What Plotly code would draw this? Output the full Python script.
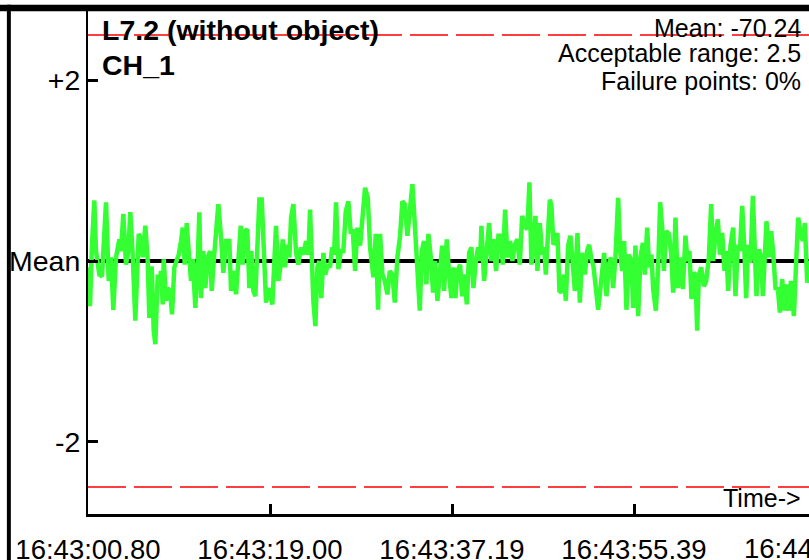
import plotly.graph_objects as go

# ---- data (seconds since 16:43:00.80, deviation from mean) ----
t_sec = [0, 0.2, 0.4, 0.63, 0.8, 1.13, 1.4, 1.53, 1.8, 2.07, 2.3, 2.53, 2.8, 3.13, 3.3, 3.53, 3.8, 4.03, 4.23, 4.47,
         4.73, 5.07, 5.3, 5.47, 5.73, 5.97, 6.13, 6.37, 6.57, 6.73, 6.97, 7.13, 7.3, 7.47, 7.57, 7.8, 7.97, 8.2, 8.4, 8.63,
         8.87, 9.07, 9.3, 9.47, 9.67, 9.87, 10.07, 10.3, 10.47, 10.73, 10.97, 11.13, 11.3, 11.53, 11.73, 11.97, 12.2, 12.37,
         12.57, 12.8, 13.03, 13.3, 13.53, 13.8, 14.13, 14.3,
         14.6, 14.8, 15.03, 15.27, 15.47, 15.7, 15.93, 16.13, 16.33, 16.53, 16.73, 16.93, 17.13, 17.37, 17.53, 17.8, 18.03,
         18.2, 18.43, 18.63, 18.8, 19.03, 19.27, 19.47, 19.7, 19.93, 20.13, 20.3, 20.53, 20.8, 21.03, 21.27, 21.53, 21.8,
         22.03, 22.2, 22.4, 22.53, 22.73, 22.93, 23.13, 23.33, 23.53, 23.73, 23.97, 24.2, 24.4, 24.6, 24.8, 25.03, 25.27,
         25.53, 25.77, 26.03, 26.27, 26.47, 26.7, 26.93, 27.2, 27.47, 27.7, 27.97, 28.2, 28.53, 28.77,
         29.0, 29.2, 29.43, 29.67, 29.93, 30.17, 30.43, 30.67, 30.93, 31.2, 31.43, 31.67, 31.93, 32.2, 32.43, 32.67, 32.93,
         33.17, 33.37, 33.6, 33.83, 34.03, 34.27, 34.5, 34.7, 34.93, 35.17, 35.4, 35.6, 35.87, 36.1, 36.33, 36.53, 36.73,
         36.93, 37.2, 37.4, 37.6, 37.87, 38.1, 38.33, 38.53, 38.77, 39.0, 39.2, 39.33, 39.6, 39.87, 40.1, 40.33, 40.53, 40.8,
         41.03, 41.27, 41.47, 41.7, 41.93, 42.2, 42.43, 42.67, 42.93, 43.17,
         43.4, 43.67, 43.93, 44.13, 44.33, 44.57, 44.73, 44.93, 45.17, 45.4, 45.6, 45.77, 46.0, 46.17, 46.33, 46.53, 46.73,
         46.93, 47.13, 47.33, 47.57, 47.77, 48.0, 48.23, 48.43, 48.67, 48.93, 49.17, 49.4, 49.67, 49.9, 50.1, 50.33, 50.53,
         50.77, 51.0, 51.23, 51.43, 51.6, 51.83, 52.07, 52.27, 52.5, 52.73, 53.0, 53.2, 53.4, 53.6, 53.83, 54.07, 54.33,
         54.5, 54.73, 55.0, 55.23, 55.47, 55.67, 55.9, 56.1, 56.33, 56.5, 56.77, 57.0, 57.2, 57.4, 57.57,
         57.8, 58.07, 58.3, 58.5, 58.73, 58.97, 59.23, 59.47, 59.73, 59.93, 60.13, 60.33, 60.57, 60.73, 60.9, 61.07, 61.3,
         61.57, 61.8, 62.07, 62.3, 62.5, 62.73, 62.97, 63.17, 63.4, 63.63, 63.83, 64.0, 64.23, 64.5, 64.73, 64.97, 65.17,
         65.4, 65.6, 65.8, 66.0, 66.23, 66.47, 66.67, 66.83, 67.07, 67.3, 67.47, 67.67, 67.83, 68.07, 68.3, 68.5, 68.73,
         68.97, 69.17, 69.4, 69.63, 69.83, 70.07, 70.27, 70.57, 70.8, 71.0, 71.23, 71.47, 71.67, 71.9, 72.1]

deviation = [-0.07, -0.50, 0.18, 0.67, 0.11, -0.15, -0.17, 0.18, 0.65, -0.22, 0.04, -0.54, 0.04, 0.24, 0.11, 0.52, -0.04,
             0.11, 0.54, 0.06, -0.66, 0.30, 0.24, 0.04, 0.39, 0, -0.63, -0.06, -0.77, -0.92, -0.15, -0.26, -0.11, -0.48,
             0.02, -0.44, -0.30, -0.33, -0.59, -0.07, 0, 0.07, 0.22, 0.37, -0.04, 0.42, 0.11, -0.22, 0.02, -0.52, 0, 0.54,
             -0.41, 0.11, -0.30, 0.04, 0.11, -0.33, 0, 0.30, 0.63, 0.26, -0.13, 0.22, 0.22, -0.33,
             -0.11, -0.37, -0.04, 0.39, -0.04, 0.33, 0.35, -0.30, 0.11, -0.33, -0.39, 0.22, 0.68, 0.68, 0.26, -0.46, -0.30,
             -0.37, -0.48, 0, 0.39, -0.22, -0.04, 0.24, -0.07, 0.18, 0.04, 0.48, 0.63, 0.09, -0.04, 0.15, 0.07, 0.22,
             0.07, 0.57, -0.15, -0.44, -0.72, -0.07, 0, -0.41, 0.09, -0.15, -0.04, -0.07, 0.15, 0.07, 0.65, -0.09, 0.11,
             0.11, 0.55, 0.66, 0.30, 0.35, -0.11, 0.37, 0.17, 0.59, 0.81, 0.70, 0.15, -0.18, 0.30,
             -0.54, 0.30, -0.15, -0.22, -0.37, -0.11, -0.15, -0.46, 0.04, 0.28, 0.66, 0.63, 0.28, 0.59, 0.85, 0.41, -0.07,
             -0.55, 0.11, 0.22, -0.26, 0.30, 0.04, -0.35, 0, -0.44, -0.15, 0.17, -0.33, 0.24, -0.15, -0.41, -0.07, -0.41,
             -0.11, -0.04, -0.39, -0.15, -0.48, 0.09, 0.15, -0.30, 0, 0.15, 0, 0.39, -0.22, 0.11, 0.42, 0, 0.24, -0.11,
             0.28, 0.28, -0.04, 0.57, 0.04, 0.22, 0, 0.18, 0.24, -0.04,
             0.50, 0.39, 0.35, 0.87, -0.04, 0.22, 0.50, -0.11, 0.42, 0.07, 0.15, -0.15, 0.31, 0.68, 0.61, 0.18, 0.22,
             0.31, -0.33, -0.35, -0.15, -0.44, 0.17, 0.28, 0.02, -0.33, 0.31, -0.46, 0.09, -0.15, 0.11, 0.18, 0.02, -0.06,
             -0.30, -0.54, -0.30, -0.11, 0.09, -0.39, -0.04, 0.04, -0.30, 0.04, 0.70, 0.11, -0.11, 0.22, -0.54, 0.07, 0,
             -0.52, 0.17, -0.61, 0.04, 0.20, -0.15, 0.37, -0.07, 0.07, -0.31, -0.55, -0.07, 0.65, 0.37, -0.11,
             0.33, 0.30, 0.09, -0.35, 0.48, -0.30, 0.04, -0.31, 0.28, 0, 0.11, -0.42, -0.13, -0.15, -0.77, -0.15, -0.07,
             -0.28, -0.22, 0.04, 0.63, 0, 0.30, 0.46, 0.07, 0.31, -0.11, 0.11, -0.33, 0.17, 0.37, -0.39, 0.18, 0.11,
             0.61, 0.18, -0.41, 0.18, -0.02, 0.72, 0.04, -0.39, 0.13, 0.04, -0.39, 0.09, 0.44, 0.04, 0.33, 0.09, -0.30,
             -0.31, -0.57, -0.20, -0.55, -0.26, -0.55, -0.22, -0.61, 0, 0.48, 0.31, 0.22, 0.42, -0.24, 0]

x_tick_vals = [0, 18.195, 36.39, 54.585]
x_tick_text = ["16:43:00.80", "16:43:19.00", "16:43:37.19", "16:43:55.39"]
x_next_tick_val = 72.78
x_next_tick_text = "16:44:13.58"
y_tick_vals = [2, 0, -2]
y_tick_text = ["+2", "Mean", "-2"]
acceptable = 2.5
x_range = [0, 72.08]
y_range = [-2.8, 2.8]

title_lines = ["L7.2 (without object)", "CH_1"]
stats_lines = ["Mean: -70.24", "Acceptable range: 2.5", "Failure points: 0%"]

FONT = "Liberation Sans, Arial, sans-serif"

fig = go.Figure()
fig.add_trace(go.Scatter(x=t_sec, y=deviation, mode="lines",
                         line=dict(color="#33ff33", width=4.5), hoverinfo="skip", showlegend=False))

shapes = []
# mean line
shapes.append(dict(type="line", xref="paper", yref="y", x0=0, x1=1, y0=0, y1=0,
                   line=dict(color="black", width=4), layer="below"))
# acceptable range lines
for yv in (acceptable, -acceptable):
    shapes.append(dict(type="line", xref="paper", yref="y", x0=0, x1=1, y0=yv, y1=yv,
                       line=dict(color="#ff0000", width=1.5, dash="38px,8px"), layer="below"))
# outer frame (top bar and left bar)
shapes.append(dict(type="rect", xref="paper", yref="paper", x0=-0.125, x1=1.05, y0=0.9935, y1=1.0065,
                   fillcolor="black", line=dict(width=0), layer="above"))
shapes.append(dict(type="rect", xref="paper", yref="paper", x0=-0.1125, x1=-0.107, y0=-0.2, y1=1.0065,
                   fillcolor="black", line=dict(width=0), layer="above"))

annotations = []
annotations.append(dict(text="<b>%s</b>" % title_lines[0], xref="paper", yref="paper", x=0.0165, y=0.9565,
                        xanchor="left", yanchor="middle", showarrow=False, font=dict(size=28.5, color="black", family=FONT)))
annotations.append(dict(text="<b>%s</b>" % title_lines[1], xref="paper", yref="paper", x=0.0165, y=0.887,
                        xanchor="left", yanchor="middle", showarrow=False, font=dict(size=28.5, color="black", family=FONT)))
for i, s in enumerate(stats_lines):
    annotations.append(dict(text=s, xref="paper", yref="paper", x=0.9915, y=[0.9595, 0.911, 0.8557][i],
                            xanchor="right", yanchor="middle", showarrow=False,
                            font=dict(size=25, color="black", family=FONT)))
annotations.append(dict(text="Time->", xref="paper", yref="paper", x=0.9915, y=0.0326,
                        xanchor="right", yanchor="middle", showarrow=False,
                        font=dict(size=25, color="black", family=FONT)))
annotations.append(dict(text=x_next_tick_text, xref="paper", yref="paper",
                        x=(x_next_tick_val - x_range[0]) / (x_range[1] - x_range[0]), y=-0.0672,
                        xanchor="center", yanchor="middle", showarrow=False,
                        font=dict(size=27.5, color="black", family=FONT)))

fig.update_layout(
    width=809, height=560,
    margin=dict(l=88, r=0, t=8, b=46, pad=0, autoexpand=False),
    paper_bgcolor="white", plot_bgcolor="white",
    font=dict(family=FONT, color="black"),
    shapes=shapes, annotations=annotations,
    xaxis=dict(range=x_range, tickmode="array", tickvals=x_tick_vals, ticktext=x_tick_text,
               ticks="inside", ticklen=10, tickwidth=3, tickcolor="black", automargin=False,
               showline=True, linecolor="black", linewidth=3, showgrid=False, zeroline=False,
               tickfont=dict(size=27.5, family=FONT, color="black"), ticklabelstandoff=9),
    yaxis=dict(range=y_range, tickmode="array", tickvals=y_tick_vals, ticktext=y_tick_text,
               ticks="inside", ticklen=10, tickwidth=3, tickcolor="black", automargin=False,
               showline=True, linecolor="black", linewidth=2, showgrid=False, zeroline=False,
               tickfont=dict(size=28.5, family=FONT, color="black"), ticklabelstandoff=0),
)

fig.write_html("out.html", config={"displayModeBar": False},
               post_script="document.body.style.margin='0';document.body.style.overflow='hidden';")
